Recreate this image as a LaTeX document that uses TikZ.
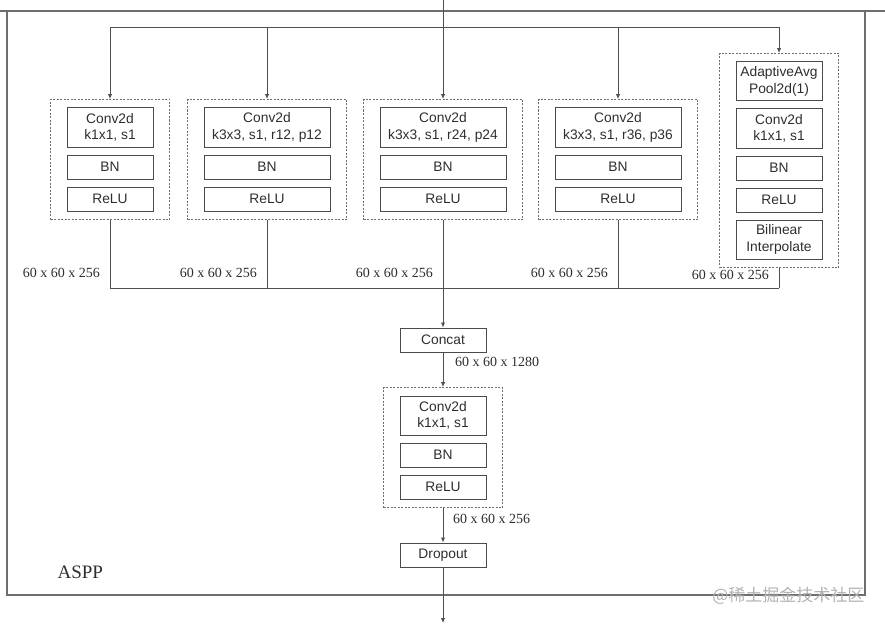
\documentclass[tikz,border=0pt]{standalone}
\usepackage{fontspec}
\setmainfont{Liberation Serif}
\setsansfont{Liberation Sans}
\newfontfamily\cjkfont{Noto Sans CJK SC}
\usetikzlibrary{arrows.meta,fit,positioning}
\definecolor{wiregray}{HTML}{505050}
\definecolor{boxgray}{HTML}{4A4A4A}
\definecolor{textgray}{HTML}{2E2E2E}
\definecolor{framegray}{HTML}{6E6E6E}

\begin{document}
\begin{tikzpicture}[x=1pt,y=-1pt,node distance=7pt,
  layer/.style={draw=boxgray,line width=1pt,font=\sffamily\fontsize{13.8}{16.5}\selectfont,
    text=textgray,align=center,minimum width=86pt,minimum height=24pt,inner sep=0pt},
  grp/.style={draw=framegray,line width=0.9pt,dash pattern=on 2pt off 1.5pt,
    inner xsep=16pt,inner ysep=8pt},
  dim/.style={font=\fontsize{14}{16}\selectfont,text=textgray,inner sep=0pt},
  wire/.style={draw=wiregray,line width=0.9pt},
  arr/.style={wire,-{Latex[length=5pt,width=4.5pt]}},
  frame/.style={draw=framegray,line width=1.2pt}]
\useasboundingbox (0,0) rectangle (885,623);
% outer ASPP frame
\draw[frame] (7,11) rectangle (865,595);
\draw[frame] (0,11) -- (885,11);
\node[font=\fontsize{19}{22}\selectfont,text=textgray,anchor=west] (aspp) at (54,572) {ASPP};
% four conv branches
\foreach \n/\x/\w/\txt in {1/110/86/{k1x1, s1},2/267/126/{k3x3, s1, r12, p12},
    3/443/126/{k3x3, s1, r24, p24},4/618/126/{k3x3, s1, r36, p36}}{
  \node[layer,minimum width=\w pt,minimum height=39pt] (c\n) at (\x,127.5) {Conv2d\\\txt};
  \node[layer,minimum width=\w pt,below=of c\n] (b\n) {BN};
  \node[layer,minimum width=\w pt,below=of b\n] (r\n) {ReLU};
  \node[grp,fit=(c\n)(r\n)] (g\n) {};
}
% pooling branch
\node[layer,minimum height=39pt] (a5) at (779,81.5) {AdaptiveAvg\\Pool2d(1)};
\node[layer,minimum height=39pt,below=of a5] (c5) {Conv2d\\k1x1, s1};
\node[layer,below=of c5] (b5) {BN};
\node[layer,below=of b5] (r5) {ReLU};
\node[layer,minimum height=39pt,below=of r5] (i5) {Bilinear\\Interpolate};
\node[grp,fit=(a5)(i5)] (g5) {};
% split input
\coordinate (in) at (443,0);
\coordinate (sp) at (443,27);
\draw[wire] (in) -- (sp);
\draw[wire] (g1.north |- sp) -- (g5.north |- sp);
\foreach \n in {1,...,5}
  \draw[arr] (g\n.north |- sp) -- (g\n.north);
% join outputs
\coordinate (jn) at (443,288);
\foreach \n in {1,...,5}
  \draw[wire] (g\n.south) -- (g\n.south |- jn);
\draw[wire] (g1.south |- jn) -- (g5.south |- jn);
\foreach \n/\y in {1/273,2/273,3/273,4/273,5/275}
  \node[dim,anchor=east,xshift=-10pt] (d\n) at (g\n.south |- 0,\y) {60 x 60 x 256};
% head
\node[layer] (cat) at (443,340) {Concat};
\draw[arr] (jn) -- (cat);
\node[layer,minimum height=39pt] (c6) at (443,415.5) {Conv2d\\k1x1, s1};
\node[layer,below=of c6] (b6) {BN};
\node[layer,below=of b6] (r6) {ReLU};
\node[grp,fit=(c6)(r6)] (g6) {};
\draw[arr] (cat) -- (g6);
\node[dim,anchor=west] (d6) at (455,362) {60 x 60 x 1280};
\node[layer] (drp) at (443,555) {Dropout};
\draw[arr] (g6) -- (drp);
\node[dim,anchor=west] (d7) at (453,519) {60 x 60 x 256};
\coordinate (out) at (443,623);
\draw[arr] (drp) -- (out);
\node[font=\cjkfont\fontsize{17}{19}\selectfont,text=black!30,anchor=east] (wm) at (868,596) {@稀土掘金技术社区};
\end{tikzpicture}
\end{document}
